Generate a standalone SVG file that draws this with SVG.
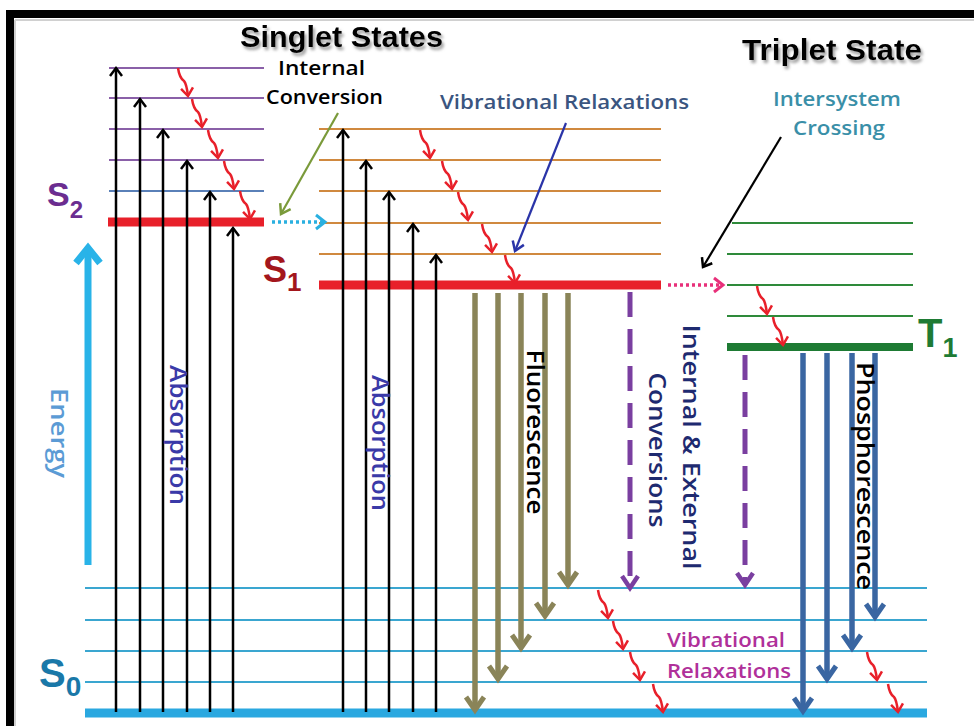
<svg xmlns="http://www.w3.org/2000/svg" xmlns:xlink="http://www.w3.org/1999/xlink" width="974" height="726" viewBox="0 0 974 726">
<style>
text{font-family:"Liberation Sans","Open Sans",Arial,sans-serif}
.title{font-size:30px;font-weight:bold;fill:#000}
.lbl{font-family:"Open Sans","Liberation Sans",Arial,sans-serif;font-size:19px;font-weight:600}
.vt{font-family:"Open Sans","Liberation Sans",Arial,sans-serif;font-size:24px;font-weight:600}
.lvl-s2{stroke:#8a60a8;stroke-width:2}
.lvl-s1{stroke:#d0893f;stroke-width:2}
.lvl-t1{stroke:#2e8a3a;stroke-width:2}
.lvl-s0{stroke:#3aa6d0;stroke-width:2}
.abs{stroke:#000;stroke-width:2.5;fill:none;marker-end:url(#mk-black)}
.wavy{stroke:#e8202a;stroke-width:2.5;fill:none;marker-end:url(#mk-red)}
.flu{stroke:#8a8458;stroke-width:5.5;marker-end:url(#mk-olive)}
.pho{stroke:#3a66a2;stroke-width:5.5;marker-end:url(#mk-blue)}
.ic{stroke:#7a3fa0;stroke-width:5;stroke-dasharray:25 12;marker-end:url(#mk-purple)}
</style>
<defs>
<filter id="shadow" x="-10%" y="-30%" width="130%" height="170%">
<feDropShadow dx="2" dy="3" stdDeviation="1.5" flood-color="#777" flood-opacity="0.7"/>
</filter>
<marker id="mk-black" viewBox="-12 -8 14 16" refX="0" refY="0" markerWidth="14" markerHeight="16" markerUnits="userSpaceOnUse" orient="auto" overflow="visible">
<path d="M-8,-6 L0,0 L-8,6" fill="none" stroke="#000" stroke-width="2.5"/>
</marker>
<marker id="mk-red" viewBox="-10 -7 12 14" refX="0" refY="0" markerWidth="12" markerHeight="14" markerUnits="userSpaceOnUse" orient="auto" overflow="visible">
<path d="M-8,-6 L0,0 L-8,6" fill="none" stroke="#e8202a" stroke-width="2.5"/>
</marker>
<marker id="mk-olive" viewBox="-16 -12 18 24" refX="0" refY="0" markerWidth="18" markerHeight="24" markerUnits="userSpaceOnUse" orient="auto" overflow="visible">
<path d="M-13,-9 L0,0 L-13,9" fill="none" stroke="#8a8458" stroke-width="5"/>
</marker>
<marker id="mk-blue" viewBox="-16 -12 18 24" refX="0" refY="0" markerWidth="18" markerHeight="24" markerUnits="userSpaceOnUse" orient="auto" overflow="visible">
<path d="M-13,-9 L0,0 L-13,9" fill="none" stroke="#3a66a2" stroke-width="5"/>
</marker>
<marker id="mk-purple" viewBox="-16 -12 18 24" refX="0" refY="0" markerWidth="18" markerHeight="24" markerUnits="userSpaceOnUse" orient="auto" overflow="visible">
<path d="M-12,-8 L0,0 L-12,8" fill="none" stroke="#7a3fa0" stroke-width="4.5"/>
</marker>
<marker id="mk-cyan" viewBox="-12 -9 14 18" refX="0" refY="0" markerWidth="14" markerHeight="18" markerUnits="userSpaceOnUse" orient="auto" overflow="visible">
<path d="M-9,-7 L0,0 L-9,7" fill="none" stroke="#2ab0e0" stroke-width="3"/>
</marker>
<marker id="mk-pink" viewBox="-12 -9 14 18" refX="0" refY="0" markerWidth="14" markerHeight="18" markerUnits="userSpaceOnUse" orient="auto" overflow="visible">
<path d="M-9,-7 L0,0 L-9,7" fill="none" stroke="#e8307a" stroke-width="3"/>
</marker>
<marker id="mk-green" viewBox="-12 -8 14 16" refX="0" refY="0" markerWidth="14" markerHeight="16" markerUnits="userSpaceOnUse" orient="auto" overflow="visible">
<path d="M-9,-6 L0,0 L-9,6" fill="none" stroke="#7a9a3a" stroke-width="2.5"/>
</marker>
<marker id="mk-navy" viewBox="-12 -8 14 16" refX="0" refY="0" markerWidth="14" markerHeight="16" markerUnits="userSpaceOnUse" orient="auto" overflow="visible">
<path d="M-9,-6 L0,0 L-9,6" fill="none" stroke="#2a34a8" stroke-width="2.5"/>
</marker>
<path id="wv" d="M0,0 C1,7 3,11 6,13 C8,15 9,20 10,28" class="wavy"/>
</defs>

<rect x="0" y="0" width="974" height="726" fill="#fff"/>

<g id="border">
<path d="M6,10 H974 V18 H14 V726 H6 Z" fill="#000"/>
<path d="M15,20 H974 M15,20 V726" stroke="#d0d0d0" stroke-width="2" fill="none"/>
</g>

<g id="titles" filter="url(#shadow)">
<text class="title" x="240" y="47" textLength="203" lengthAdjust="spacingAndGlyphs">Singlet States</text>
<text class="title" x="742" y="60" textLength="180" lengthAdjust="spacingAndGlyphs">Triplet State</text>
</g>

<g id="S2">
<line class="lvl-s2" x1="109" y1="68" x2="264" y2="68"/>
<line class="lvl-s2" x1="109" y1="98" x2="264" y2="98"/>
<line class="lvl-s2" x1="109" y1="129" x2="264" y2="129"/>
<line class="lvl-s2" x1="109" y1="160" x2="264" y2="160"/>
<line class="lvl-s2" x1="109" y1="191" x2="264" y2="191" style="stroke:#5a80b8"/>
<line x1="108" y1="222" x2="264" y2="222" stroke="#e8202a" stroke-width="9"/>
<text x="47" y="206" font-size="34" font-weight="bold" fill="#6b2d90">S<tspan font-size="24" dy="12">2</tspan></text>
</g>

<g id="S1">
<line class="lvl-s1" x1="319" y1="129" x2="661" y2="129"/>
<line class="lvl-s1" x1="319" y1="160" x2="661" y2="160"/>
<line class="lvl-s1" x1="319" y1="191" x2="661" y2="191"/>
<line class="lvl-s1" x1="319" y1="223" x2="661" y2="223"/>
<line class="lvl-s1" x1="319" y1="254" x2="661" y2="254"/>
<line x1="319" y1="285" x2="661" y2="285" stroke="#e8202a" stroke-width="9"/>
<text x="263" y="282" font-size="36" font-weight="bold" fill="#a3161c">S<tspan font-size="26" dy="9">1</tspan></text>
</g>

<g id="T1">
<line class="lvl-t1" x1="732" y1="223" x2="913" y2="223"/>
<line class="lvl-t1" x1="727" y1="254" x2="913" y2="254"/>
<line class="lvl-t1" x1="727" y1="285" x2="913" y2="285"/>
<line class="lvl-t1" x1="727" y1="316" x2="913" y2="316"/>
<line x1="727" y1="347" x2="913" y2="347" stroke="#1e7b34" stroke-width="8"/>
<text x="918" y="347" font-size="40" font-weight="bold" fill="#1e7b34">T<tspan font-size="27" dy="10">1</tspan></text>
</g>

<g id="S0">
<line class="lvl-s0" x1="85" y1="588" x2="927" y2="588"/>
<line class="lvl-s0" x1="85" y1="620" x2="927" y2="620"/>
<line class="lvl-s0" x1="85" y1="651" x2="927" y2="651"/>
<line class="lvl-s0" x1="85" y1="682" x2="927" y2="682"/>
<line x1="85" y1="713" x2="927" y2="713" stroke="#2aa8e0" stroke-width="9"/>
<text x="39" y="687" font-size="40" font-weight="bold" fill="#1a78a8">S<tspan font-size="28" dy="9">0</tspan></text>
</g>

<g id="energy">
<line x1="88" y1="565" x2="88" y2="250" stroke="#29b3e8" stroke-width="7"/>
<polyline points="76,263 88,248 100,263" fill="none" stroke="#29b3e8" stroke-width="7"/>
<text class="vt" transform="translate(51,433) rotate(90)" text-anchor="middle" font-size="21" fill="#5b9bd5" textLength="90" lengthAdjust="spacingAndGlyphs">Energy</text>
</g>

<g id="connectors">
<line class="abs" x1="116" y1="712" x2="116" y2="68"/>
<line class="abs" x1="140" y1="712" x2="140" y2="99"/>
<line class="abs" x1="163" y1="712" x2="163" y2="130"/>
<line class="abs" x1="187" y1="712" x2="187" y2="161"/>
<line class="abs" x1="210" y1="712" x2="210" y2="192"/>
<line class="abs" x1="233" y1="712" x2="233" y2="228"/>
<line class="abs" x1="343" y1="712" x2="343" y2="130"/>
<line class="abs" x1="366" y1="712" x2="366" y2="161"/>
<line class="abs" x1="389" y1="712" x2="389" y2="192"/>
<line class="abs" x1="413" y1="712" x2="413" y2="224"/>
<line class="abs" x1="436" y1="712" x2="436" y2="255"/>
<use href="#wv" x="178" y="68"/>
<use href="#wv" x="192" y="99"/>
<use href="#wv" x="208" y="130"/>
<use href="#wv" x="224" y="161"/>
<use href="#wv" x="240" y="191"/>
<use href="#wv" x="420" y="130"/>
<use href="#wv" x="442" y="161"/>
<use href="#wv" x="458" y="192"/>
<use href="#wv" x="482" y="224"/>
<use href="#wv" x="505" y="255"/>
<use href="#wv" x="757" y="286"/>
<use href="#wv" x="773" y="317"/>
<use href="#wv" x="598" y="590"/>
<use href="#wv" x="613" y="621"/>
<use href="#wv" x="630" y="652"/>
<use href="#wv" x="653" y="684"/>
<use href="#wv" x="867" y="652"/>
<use href="#wv" x="888" y="684"/>
<line x1="272" y1="222" x2="325" y2="222" stroke="#2ab0e0" stroke-width="3.5" stroke-dasharray="3 3" marker-end="url(#mk-cyan)"/>
<line x1="668" y1="285" x2="723" y2="285" stroke="#e8307a" stroke-width="3.5" stroke-dasharray="3 3" marker-end="url(#mk-pink)"/>
<line class="flu" x1="475" y1="293" x2="475" y2="710"/>
<line class="flu" x1="498" y1="293" x2="498" y2="679"/>
<line class="flu" x1="521" y1="293" x2="521" y2="648"/>
<line class="flu" x1="545" y1="293" x2="545" y2="616"/>
<line class="flu" x1="568" y1="293" x2="568" y2="585"/>
<line class="ic" x1="630" y1="292" x2="630" y2="588"/>
<line class="ic" x1="745" y1="355" x2="745" y2="585"/>
<line class="pho" x1="803" y1="353" x2="803" y2="711"/>
<line class="pho" x1="827" y1="353" x2="827" y2="679"/>
<line class="pho" x1="852" y1="353" x2="852" y2="648"/>
<line class="pho" x1="875" y1="353" x2="875" y2="617"/>
<line x1="338" y1="113" x2="281" y2="214" stroke="#7a9a3a" stroke-width="2.2" marker-end="url(#mk-green)"/>
<line x1="566" y1="123" x2="515" y2="251" stroke="#2a34a8" stroke-width="2.2" marker-end="url(#mk-navy)"/>
<line x1="781" y1="137" x2="703" y2="267" stroke="#000" stroke-width="2.2" marker-end="url(#mk-black)"/>
</g>

<g id="labels">
<text class="lbl" x="278" y="75" fill="#000" textLength="87" lengthAdjust="spacingAndGlyphs">Internal</text>
<text class="lbl" x="266" y="104" fill="#000" textLength="117" lengthAdjust="spacingAndGlyphs">Conversion</text>
<text class="lbl" x="440" y="109" font-size="20" fill="#3a5580" textLength="249" lengthAdjust="spacingAndGlyphs">Vibrational Relaxations</text>
<text class="lbl" x="773" y="106" fill="#3a8fa8" textLength="128" lengthAdjust="spacingAndGlyphs">Intersystem</text>
<text class="lbl" x="793" y="135" fill="#3a8fa8" textLength="92" lengthAdjust="spacingAndGlyphs">Crossing</text>
<text class="lbl" x="667" y="647" font-size="20" fill="#b0309a" textLength="118" lengthAdjust="spacingAndGlyphs">Vibrational</text>
<text class="lbl" x="667" y="678" font-size="20" fill="#b0309a" textLength="124" lengthAdjust="spacingAndGlyphs">Relaxations</text>
<text class="vt" transform="translate(170,435) rotate(90)" text-anchor="middle" fill="#3a3aa8" textLength="140" lengthAdjust="spacingAndGlyphs">Absorption</text>
<text class="vt" transform="translate(372,443) rotate(90)" text-anchor="middle" fill="#3a3aa8" textLength="136" lengthAdjust="spacingAndGlyphs">Absorption</text>
<text class="vt" transform="translate(527,432) rotate(90)" text-anchor="middle" fill="#000" textLength="165" lengthAdjust="spacingAndGlyphs">Fluorescence</text>
<text class="vt" transform="translate(683,447) rotate(90)" text-anchor="middle" fill="#1e2a70" textLength="245" lengthAdjust="spacingAndGlyphs">Internal &amp; External</text>
<text class="vt" transform="translate(649,450) rotate(90)" text-anchor="middle" fill="#1e2a70" textLength="155" lengthAdjust="spacingAndGlyphs">Conversions</text>
<text class="vt" transform="translate(857,476) rotate(90)" text-anchor="middle" fill="#000" textLength="228" lengthAdjust="spacingAndGlyphs">Phosphorescence</text>
</g>
</svg>
